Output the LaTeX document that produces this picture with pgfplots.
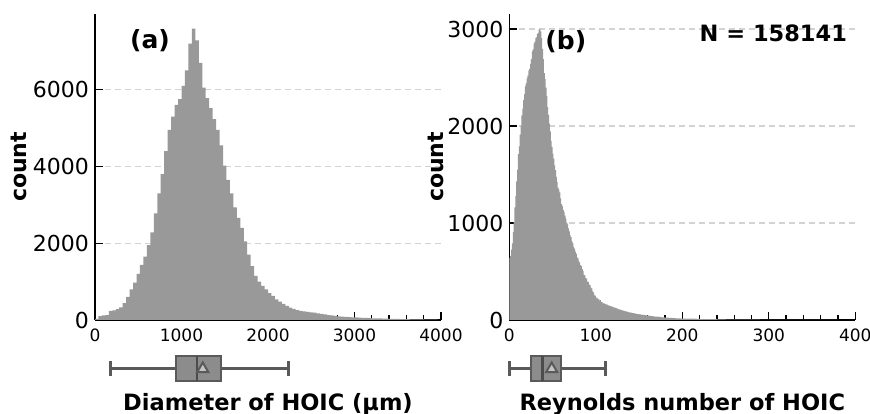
\documentclass[border=0pt]{standalone}
\usepackage{fontspec}
\setmainfont{DejaVu Sans}
\usepackage{pgfplots}
\pgfplotsset{compat=1.18}

\definecolor{histgray}{HTML}{999999}
\definecolor{gridgray}{HTML}{D3D3D3}
\definecolor{boxfill}{HTML}{8C8C8C}
\definecolor{boxedge}{HTML}{5A5A5A}
\definecolor{meanfill}{HTML}{C4C4C4}

% histogram bins: left edge and count
\pgfplotstableread{
x y
0 30
40 100
80 120
120 130
160 240
200 250
240 280
280 330
320 440
360 600
400 800
440 975
480 1200
520 1435
560 1650
600 1950
640 2280
680 2780
720 3300
760 3800
800 4400
840 4950
880 5300
920 5600
960 5750
1000 6100
1040 6500
1080 7200
1120 7590
1160 7280
1200 6700
1240 6050
1280 5780
1320 5520
1360 5230
1400 4950
1440 4550
1480 4020
1520 3650
1560 3300
1600 2930
1640 2660
1680 2400
1720 2050
1760 1700
1800 1400
1840 1150
1880 1000
1920 890
1960 800
2000 700
2040 630
2080 540
2120 480
2160 420
2200 370
2240 320
2280 290
2320 260
2360 240
2400 225
2440 210
2480 200
2520 190
2560 175
2600 160
2640 145
2680 130
2720 120
2760 105
2800 95
2840 88
2880 82
2920 78
2960 70
3000 65
3040 60
3080 56
3120 52
3160 48
3200 45
3240 42
3280 40
3320 38
3360 35
3400 32
3440 30
3480 28
3520 25
3560 22
3600 20
3640 18
3680 16
3720 15
3760 14
3800 12
3840 10
3880 9
3920 8
3960 0
}\diamtable

\pgfplotstableread{
x y
0 640
1 660
2 725
3 790
4 905
5 1010
6 1160
7 1280
8 1430
9 1550
10 1710
11 1790
12 1910
13 2000
14 2110
15 2180
16 2270
17 2330
18 2410
19 2440
20 2490
21 2520
22 2570
23 2590
24 2640
25 2690
26 2770
27 2790
28 2850
29 2870
30 2910
31 2915
32 2950
33 2960
34 2995
35 3005
36 2975
37 2905
38 2795
39 2690
40 2545
41 2485
42 2395
43 2310
44 2195
45 2115
46 2025
47 1945
48 1845
49 1785
50 1715
51 1665
52 1595
53 1545
54 1475
55 1425
56 1365
57 1345
58 1315
59 1255
60 1195
61 1175
62 1135
63 1115
64 1075
65 1045
66 1005
67 985
68 945
69 915
70 875
71 855
72 815
73 795
74 755
75 735
76 705
77 685
78 645
79 635
80 605
81 595
82 565
83 555
84 525
85 505
86 465
87 460
88 435
89 425
90 395
91 390
92 365
93 360
94 335
95 325
96 295
97 285
98 255
99 250
100 228
101 230
102 212
103 215
104 200
105 205
106 188
107 185
108 172
109 174
110 165
112 158
114 150
116 143
118 138
120 131
122 124
124 118
126 110
128 104
130 98
132 93
134 88
136 84
138 79
140 75
142 72
144 68
146 64
148 61
150 58
152 56
154 53
156 50
158 47
160 45
162 42
164 40
166 38
168 36
170 34
172 32
174 30
176 28
178 27
180 25
182 24
184 22
186 21
188 20
190 18
192 17
194 17
196 16
198 15
200 15
205 14
210 13
215 11
220 10
225 9
230 8
240 6
250 5
260 4
270 3
290 2
320 1
380 0
}\retable

% five-number summaries and means
\def\dLW{174}\def\dQa{937}\def\dMed{1181}\def\dQc{1458}\def\dUW{2236}\def\dMean{1246}
\def\rLW{0}\def\rQa{24.7}\def\rMed{38.2}\def\rQc{59.4}\def\rUW{111}\def\rMean{49}

\pgfplotsset{
  layers/grid below/.define layer set={axis background,axis grid,pre main,main,axis ticks,axis lines,axis tick labels,axis descriptions,axis foreground}{},
  histaxis/.style={
    set layers=grid below,
    scale only axis, width=346pt, height=306pt,
    axis x line*=bottom, axis y line*=left,
    axis line style={line width=1.3pt, black, -},
    tick align=inside,
    major tick length=8pt, minor tick length=5pt,
    tick style={black, line width=1.3pt},
    ymin=0,
    ymajorgrids,
    grid style={gridgray, line width=1.2pt, dash pattern=on 6pt off 4pt},
    minor x tick num=4,
    scaled ticks=false,
    /pgf/number format/1000 sep={},
    /pgf/number format/assume math mode=true,
    xticklabel style={font=\fontsize{17}{17}\selectfont, black, yshift=-5pt},
    yticklabel style={font=\fontsize{22}{22}\selectfont, black, xshift=-2.5pt},
  },
  boxaxis/.style={scale only axis, width=346pt, height=40pt, ymin=-1, ymax=1, hide axis, clip=false},
  whisk/.style={boxedge, line width=3pt, no marks, solid},
  meanstyle/.style={only marks, mark=triangle*, mark size=6.5pt,
    mark options={draw=boxedge, fill=meanfill, line width=2pt}},
}

% horizontal box plot: #1..#5 = lower whisker, Q1, median, Q3, upper whisker, #6 = mean
\newcommand{\drawbox}[6]{%
  \addplot[whisk] coordinates {(#1,0) (#2,0)};
  \addplot[whisk] coordinates {(#4,0) (#5,0)};
  \addplot[whisk] coordinates {(#1,-0.375) (#1,0.375)};
  \addplot[whisk] coordinates {(#5,-0.375) (#5,0.375)};
  \addplot[draw=boxedge, fill=boxfill, line width=2pt, no marks]
    coordinates {(#2,-0.625) (#4,-0.625) (#4,0.625) (#2,0.625)} -- cycle;
  \addplot[black!70, line width=2.5pt, no marks] coordinates {(#3,-0.625) (#3,0.625)};
  \addplot[meanstyle] coordinates {(#6,0)};
}

\begin{document}
\begin{tikzpicture}

% (a) diameter histogram
\begin{axis}[histaxis, at={(95pt,94pt)}, anchor=south west,
  xmin=0, xmax=4000, ymax=7970,
  xtick={0,1000,2000,3000,4000}, ytick={0,2000,4000,6000}]
\addplot[const plot, draw=none, fill=histgray] table {\diamtable} \closedcycle;
\end{axis}

\begin{axis}[boxaxis, at={(95pt,25pt)}, anchor=south west, xmin=0, xmax=4000]
\drawbox{\dLW}{\dQa}{\dMed}{\dQc}{\dUW}{\dMean}
\end{axis}

% (b) Reynolds number histogram
\begin{axis}[histaxis, at={(509.3pt,94pt)}, anchor=south west,
  xmin=0, xmax=400, ymax=3155,
  xtick={0,100,200,300,400}, ytick={0,1000,2000,3000}]
\addplot[const plot, draw=none, fill=histgray] table {\retable} \closedcycle;
\end{axis}

\begin{axis}[boxaxis, at={(509.3pt,25pt)}, anchor=south west, xmin=0, xmax=400]
\drawbox{\rLW}{\rQa}{\rMed}{\rQc}{\rUW}{\rMean}
\end{axis}

% labels
\node[rotate=90, anchor=base, inner sep=0pt, font=\fontsize{22}{22}\selectfont\bfseries] at (27pt,247pt) {count};
\node[rotate=90, anchor=base, inner sep=0pt, font=\fontsize{22}{22}\selectfont\bfseries] at (443pt,247pt) {count};
\node[anchor=base, inner sep=0pt, font=\fontsize{22.5}{22.5}\selectfont\bfseries] at (268pt,3pt) {Diameter of HOIC (µm)};
\node[anchor=base, inner sep=0pt, font=\fontsize{22.5}{22.5}\selectfont\bfseries] at (682.3pt,3pt) {Reynolds number of HOIC};
\node[inner sep=0pt, font=\fontsize{25}{25}\selectfont\bfseries] at (150pt,373pt) {(a)};
\node[inner sep=0pt, font=\fontsize{25}{25}\selectfont\bfseries] at (565.8pt,372.5pt) {(b)};
\node[anchor=base, inner sep=0pt, font=\fontsize{22.5}{22.5}\selectfont\bfseries] at (773.3pt,372.3pt) {N = 158141};

% page covers the full figure area
\pgfresetboundingbox
\useasboundingbox (0pt,0pt) rectangle (870pt,414pt);
\end{tikzpicture}
\end{document}
